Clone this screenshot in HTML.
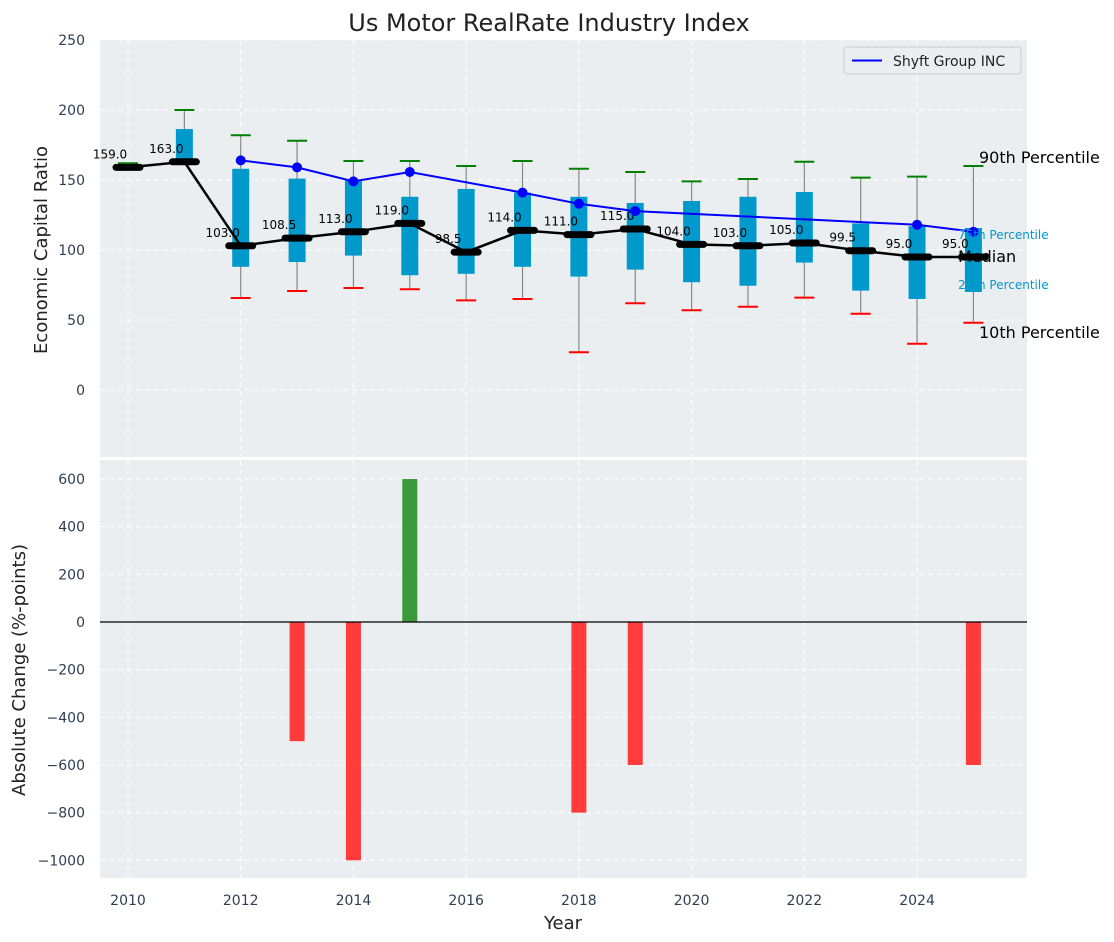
<!DOCTYPE html>
<html><head><meta charset="utf-8"><style>
body{margin:0;background:#fff;}
svg{display:block;font-family:"DejaVu Sans","Liberation Sans",sans-serif;}
</style></head><body>
<svg id="chart" width="1114" height="942" xmlns="http://www.w3.org/2000/svg"></svg>
<script>
const years=[2010,2011,2012,2013,2014,2015,2016,2017,2018,2019,2020,2021,2022,2023,2024,2025];
const p10=[159,163,65.7,70.7,72.9,72,64,65,27,62,57,59.5,66,54.5,33,48];
const p25=[159,163,88,91.4,96,82,83,88,81,86,77,74.5,91,71,65,70];
const median=[159,163,103,108.5,113,119,98.5,114,111,115,104,103,105,99.5,95,95];
const p75=[159,186.4,158,151,150,138,143.6,141,138,133.6,135,138,141.4,119,117,115.7];
const p90=[162,200,182,178,163.6,163.6,160,163.6,158,155.7,149,150.7,163,151.7,152.4,160];
const company=[null,null,164,159,149,155.7,null,141,133,127.8,null,null,null,null,118,113];
const change=[0,0,0,-500,-1000,600,0,0,-800,-600,0,0,0,0,0,-600];
const topTicks=[0,50,100,150,200,250];
const botTicks=[-1000,-800,-600,-400,-200,0,200,400,600];
const xTicks=[2010,2012,2014,2016,2018,2020,2022,2024];

const NS="http://www.w3.org/2000/svg";
const svg=document.getElementById('chart');
function el(tag,attrs,parent,text){const e=document.createElementNS(NS,tag);for(const k in attrs)e.setAttribute(k,attrs[k]);if(text!==undefined)e.textContent=text;(parent||svg).appendChild(e);return e;}
const L=100,R=1027;
const X=y=>128+56.36*(y-2010);
const Yt=v=>390-1.4*v;
const Yb=v=>622-0.2383*v;

let r=el('rect',{x:L,y:40,width:R-L,height:417,fill:'#eaeef0'});

r=el('rect',{x:L,y:460,width:R-L,height:418,fill:'#eaeef0'});


const g=el('g',{stroke:'#fff','stroke-dasharray':'5,4','stroke-width':1});

xTicks.forEach(t=>{el('line',{x1:X(t),x2:X(t),y1:40,y2:457},g);el('line',{x1:X(t),x2:X(t),y1:460,y2:878},g);});
topTicks.forEach(t=>el('line',{x1:L,x2:R,y1:Yt(t),y2:Yt(t)},g));
botTicks.forEach(t=>el('line',{x1:L,x2:R,y1:Yb(t),y2:Yb(t)},g));

const tl=el('g',{fill:'#2e3f52','font-size':14});

topTicks.forEach(t=>el('text',{x:85,y:Yt(t)+5,'text-anchor':'end'},tl,String(t)));
botTicks.forEach(t=>el('text',{x:85,y:Yb(t)+5,'text-anchor':'end'},tl,t<0?'\u2212'+(-t):String(t)));
xTicks.forEach(t=>el('text',{x:X(t),y:905,'text-anchor':'middle'},tl,String(t)));

years.forEach((yr,i)=>{
  const x=X(yr);
  let w=el('line',{x1:x,x2:x,y1:Yt(p90[i]),y2:Yt(p10[i]),stroke:'#888','stroke-width':1.2});
  
  if(p75[i]>p25[i]){
    let b=el('rect',{x:x-8.5,y:Yt(p75[i]),width:17,height:Yt(p25[i])-Yt(p75[i]),fill:'#0099cc'});
    
  }
  let c=el('line',{x1:x-10,x2:x+10,y1:Yt(p90[i]),y2:Yt(p90[i]),stroke:'green','stroke-width':2});
  
  if(p10[i]<median[i]-1){
    c=el('line',{x1:x-10,x2:x+10,y1:Yt(p10[i]),y2:Yt(p10[i]),stroke:'red','stroke-width':2});
    
  }
});
let pts=years.map((yr,i)=>X(yr)+','+Yt(median[i])).join(' ');
let ml=el('polyline',{points:pts,fill:'none',stroke:'#000','stroke-width':2.5});

years.forEach((yr,i)=>{
  let m=el('line',{x1:X(yr)-12,x2:X(yr)+12,y1:Yt(median[i]),y2:Yt(median[i]),stroke:'#000','stroke-width':7,'stroke-linecap':'round'});
  
  let t=el('text',{x:X(yr)-18,y:Yt(median[i])-9,'text-anchor':'middle','font-size':12,fill:'#000'},svg,median[i].toFixed(1));
  
});
const cp=[];years.forEach((yr,i)=>{if(company[i]!==null)cp.push([X(yr),Yt(company[i])]);});
let cl=el('polyline',{points:cp.map(p=>p.join(',')).join(' '),fill:'none',stroke:'blue','stroke-width':2});

cp.forEach(p=>{let d=el('circle',{cx:p[0],cy:p[1],r:5,fill:'blue'});});

const rl=el('g',{});
el('text',{x:979,y:163,'font-size':16},rl,'90th Percentile');
el('text',{x:958,y:239,'font-size':12,fill:'#0099cc'},rl,'75th Percentile');
el('text',{x:958,y:262,'font-size':16},rl,'Median');
el('text',{x:958,y:289,'font-size':12,fill:'#0099cc'},rl,'25th Percentile');
el('text',{x:979,y:338,'font-size':16},rl,'10th Percentile');

const lg=el('g',{});
el('rect',{x:844,y:47,width:177,height:27,fill:'#eaeef0',stroke:'#ccc',rx:3},lg);
el('line',{x1:852,x2:882,y1:60.5,y2:60.5,stroke:'blue','stroke-width':2},lg);
el('text',{x:893,y:66,'font-size':14,fill:'#222'},lg,'Shyft Group INC');

years.forEach((yr,i)=>{
  if(change[i]===0)return;
  const y0=Yb(0),y1=Yb(change[i]);
  let b=el('rect',{x:X(yr)-7.5,y:Math.min(y0,y1),width:15,height:Math.abs(y1-y0),fill:change[i]>0?'#3a9a3a':'#ff3b3b'});
  
});
let z=el('line',{x1:L,x2:R,y1:Yb(0),y2:Yb(0),stroke:'#000','stroke-width':1.2});


let t=el('text',{x:549,y:31,'text-anchor':'middle','font-size':24,fill:'#222'},svg,'Us Motor RealRate Industry Index');

t=el('text',{x:0,y:0,'text-anchor':'middle','font-size':18,fill:'#222',transform:'translate(47,250) rotate(-90)'},svg,'Economic Capital Ratio');

t=el('text',{x:0,y:0,'text-anchor':'middle','font-size':18,fill:'#222',transform:'translate(25,670) rotate(-90)'},svg,'Absolute Change (%-points)');

t=el('text',{x:563,y:929,'text-anchor':'middle','font-size':18,fill:'#222'},svg,'Year');

</script>
</body></html>
